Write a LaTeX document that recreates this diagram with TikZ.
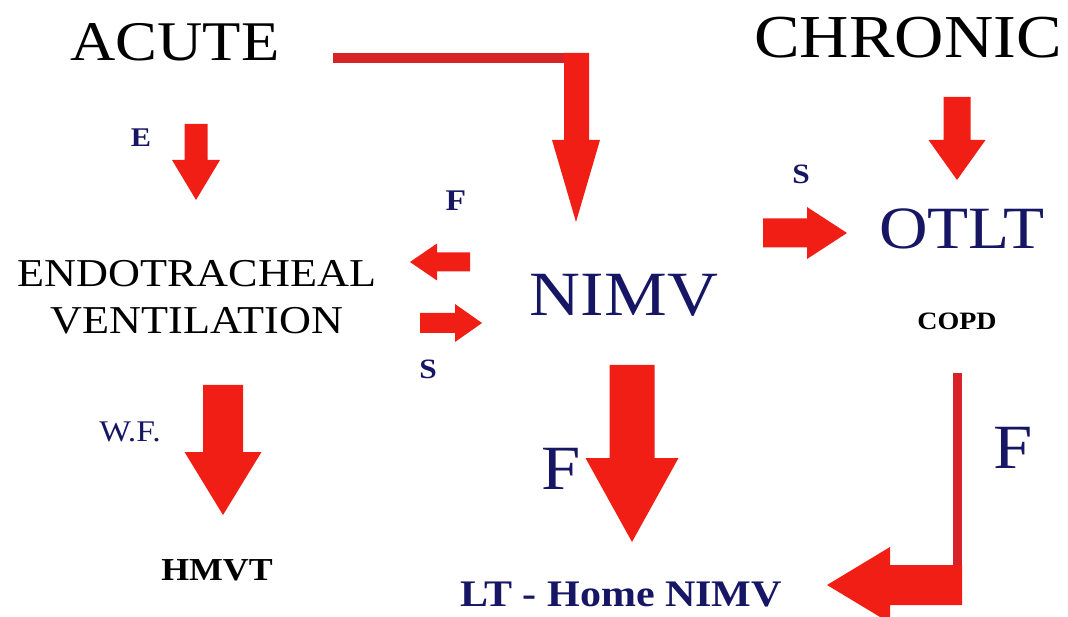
\documentclass[tikz,border=0pt]{standalone}
\usepackage{fontspec}
\setmainfont{Liberation Serif}[FakeStretch=1.12]
\definecolor{arrred}{RGB}{240,30,20}
\definecolor{thinred}{RGB}{215,35,40}
\definecolor{navy}{RGB}{22,22,100}
\tikzset{
  lbl/.style={inner sep=0pt, anchor=center},
  arrowfill/.style={fill=arrred},
}
% vertical down arrow: x, ytop, ybase, ytip, shaft width, head width
\newcommand\vdarrow[6]{\fill[arrowfill] ({#1-#5/2},#2) -- ({#1+#5/2},#2) -- ({#1+#5/2},#3) -- ({#1+#6/2},#3) -- (#1,#4) -- ({#1-#6/2},#3) -- ({#1-#5/2},#3) -- cycle;}
% horizontal arrow: y, xstart, xbase, xtip, shaft height, head height
\newcommand\hzarrow[6]{\fill[arrowfill] (#2,{#1-#5/2}) -- (#3,{#1-#5/2}) -- (#3,{#1-#6/2}) -- (#4,#1) -- (#3,{#1+#6/2}) -- (#3,{#1+#5/2}) -- (#2,{#1+#5/2}) -- cycle;}
\begin{document}
\begin{tikzpicture}[x=1pt,y=-1pt]
\useasboundingbox (0,0) rectangle (1068,617);
\clip (0,0) rectangle (1068,617);
% texts
\node[lbl, font=\fontsize{56}{60}\selectfont] (acute) at (175,42) {ACUTE};
\node[lbl, font=\fontsize{61}{64}\selectfont] (chronic) at (908,38) {CHRONIC};
\node[lbl, text=navy, font=\fontsize{27}{30}\selectfont\bfseries] (e) at (141,138) {E};
\node[lbl, align=center, font=\fontsize{39.5}{47}\selectfont] (et) at (197,297) {ENDOTRACHEAL\\VENTILATION};
\node[lbl, text=navy, font=\fontsize{30}{32}\selectfont\bfseries] (fsmall) at (456,201) {F};
\node[lbl, text=navy, font=\fontsize{28}{30}\selectfont\bfseries] (sleft) at (428,369) {S};
\node[lbl, text=navy, font=\fontsize{63}{66}\selectfont] (nimv) at (624,295) {NIMV};
\node[lbl, text=navy, font=\fontsize{28}{30}\selectfont\bfseries] (sright) at (801,174) {S};
\node[lbl, text=navy, font=\fontsize{60}{64}\selectfont] (otlt) at (962,229) {OTLT};
\node[lbl, font=\fontsize{25}{28}\selectfont\bfseries] (copd) at (957,321) {COPD};
\node[lbl, text=navy, font=\fontsize{63}{66}\selectfont] (fbig) at (561,469) {F};
\node[lbl, text=navy, font=\fontsize{63}{66}\selectfont] (fright) at (1013,448) {F};
\node[lbl, text=navy, font=\fontsize{30}{32}\selectfont] (wf) at (130,432) {W.F.};
\node[lbl, font=\fontsize{32}{34}\selectfont\bfseries] (hmvt) at (217,570) {HMVT};
\node[lbl, text=navy, font=\fontsize{37.5}{40}\selectfont\bfseries] (lt) at (621,595) {LT - Home NIMV};
% arrows
\vdarrow{196}{124}{160}{200}{23}{48}
\vdarrow{223}{385}{452}{515}{40}{77}
\vdarrow{632}{365}{458}{542}{45}{93}
\vdarrow{957}{97}{140}{180}{27}{57}
\hzarrow{262}{470}{437}{410}{19}{37}
\hzarrow{323}{420}{455}{482}{20}{38}
\hzarrow{233}{763}{807}{847}{29}{52}
% elbow from ACUTE to NIMV
\fill[thinred] (333,53) -- (589,53) -- (589,63) -- (333,63) -- cycle;
\fill[arrowfill] (564,53) -- (589,53) -- (589,140) -- (600,140) -- (576,222) -- (552,140) -- (564,140) -- cycle;
% elbow from COPD to LT - Home NIMV
\fill[thinred] (953,373) -- (962,373) -- (962,605) -- (953,605) -- cycle;
\fill[arrowfill] (962,565) -- (962,605) -- (890,605) -- (890,623) -- (827,585) -- (890,547) -- (890,565) -- cycle;
\end{tikzpicture}
\end{document}
